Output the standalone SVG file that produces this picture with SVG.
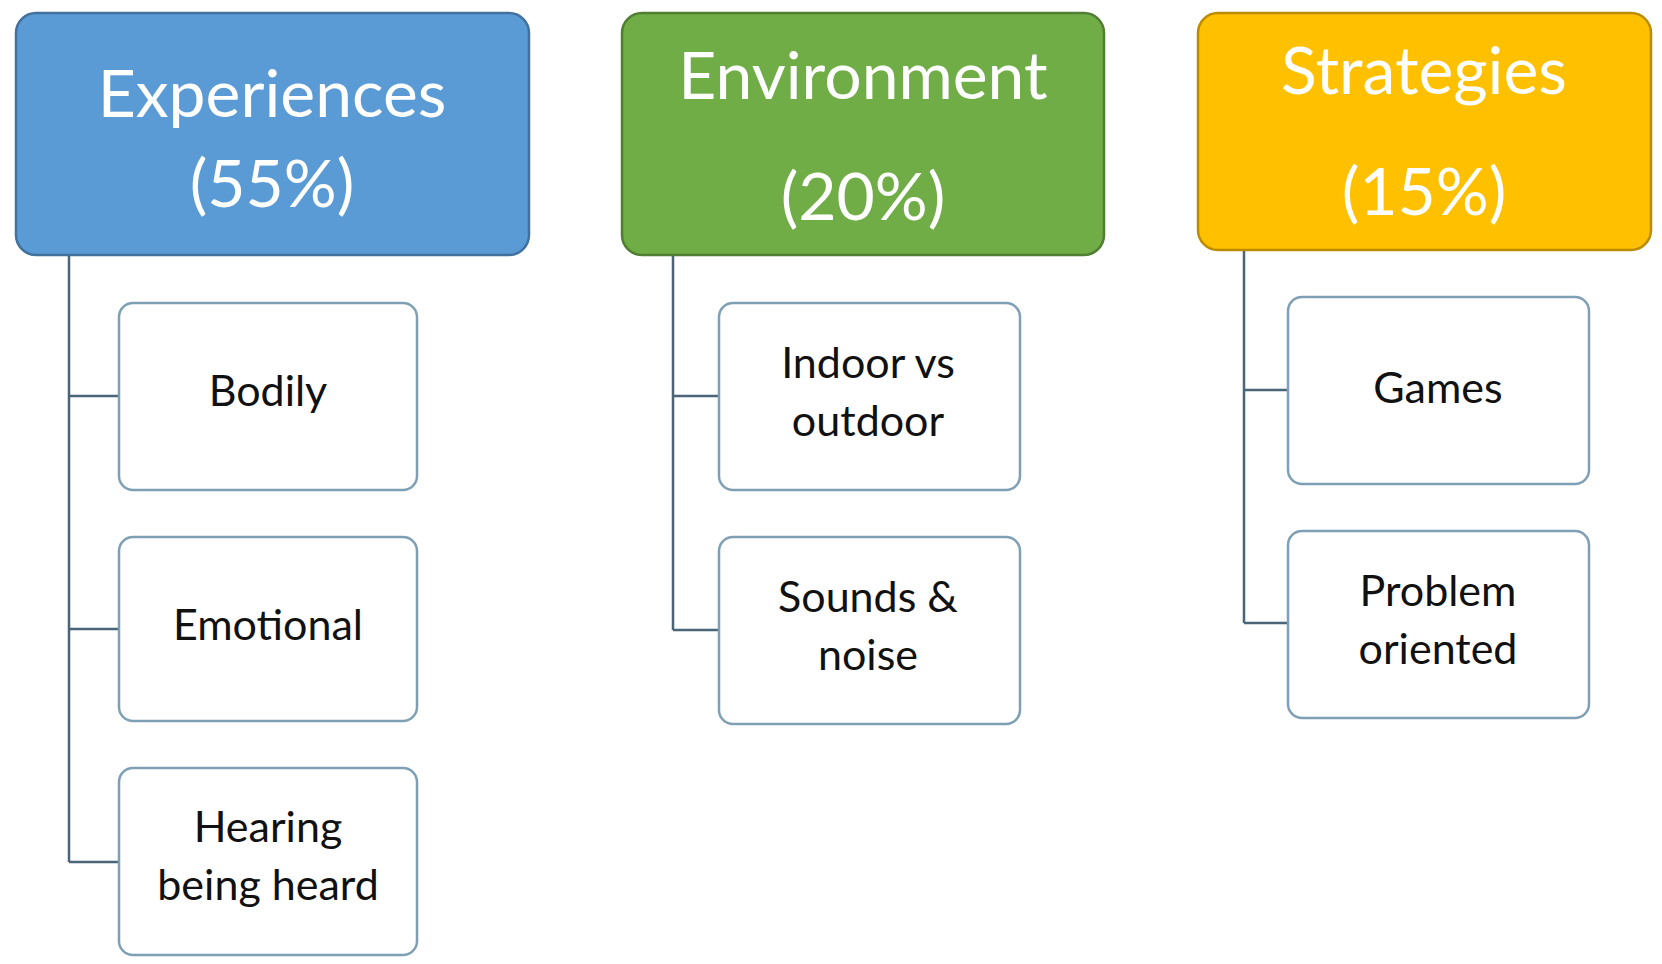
<svg xmlns="http://www.w3.org/2000/svg" width="1662" height="964" viewBox="0 0 1662 964">
<style>
.h{font-family:Lato,"Open Sans",sans-serif;fill:#fff;text-anchor:middle;font-size:66px}
.c{font-family:Lato,"Open Sans",sans-serif;fill:#111;text-anchor:middle;font-size:43px}
.box{fill:#fff;stroke:#7f9fb5;stroke-width:2.5}
.ln{stroke:#4a6478;stroke-width:2.5;fill:none}
</style>
<rect width="1662" height="964" fill="#fff"/>
<g id="connectors">
<path class="ln" d="M69 255V862M69 396H119M69 629H119M69 862H119"/>
<path class="ln" d="M673 255V630M673 396H719M673 630H719"/>
<path class="ln" d="M1244 250V623M1244 390H1288M1244 623H1288"/>
</g>
<g id="experiences"><rect x="16" y="13" width="513" height="242" rx="20" fill="#5b9bd5" stroke="#41719c" stroke-width="2.5"/>
<text class="h" x="272" y="117">Experiences</text><text class="h" x="272" y="207">(55%)</text></g>
<g id="environment"><rect x="622" y="13" width="482" height="242" rx="20" fill="#70ad47" stroke="#507e32" stroke-width="2.5"/>
<text class="h" x="863" y="99">Environment</text><text class="h" x="863" y="220">(20%)</text></g>
<g id="strategies"><rect x="1198" y="13" width="453" height="237" rx="20" fill="#ffc000" stroke="#bc8c00" stroke-width="2.5"/>
<text class="h" x="1424" y="94">Strategies</text><text class="h" x="1424" y="215">(15%)</text></g>
<g id="bodily"><rect class="box" x="119" y="303" width="298" height="187" rx="14"/><text class="c" x="268" y="406">Bodily</text></g>
<g id="emotional"><rect class="box" x="119" y="537" width="298" height="184" rx="14"/><text class="c" x="268" y="640">Emotional</text></g>
<g id="hearing"><rect class="box" x="119" y="768" width="298" height="187" rx="14"/><text class="c" x="268" y="842">Hearing</text><text class="c" x="268" y="900">being heard</text></g>
<g id="indoor"><rect class="box" x="719" y="303" width="301" height="187" rx="14"/><text class="c" x="868" y="378">Indoor vs</text><text class="c" x="868" y="436">outdoor</text></g>
<g id="sounds"><rect class="box" x="719" y="537" width="301" height="187" rx="14"/><text class="c" x="868" y="612">Sounds &amp;</text><text class="c" x="868" y="670">noise</text></g>
<g id="games"><rect class="box" x="1288" y="297" width="301" height="187" rx="14"/><text class="c" x="1438" y="403">Games</text></g>
<g id="problem"><rect class="box" x="1288" y="531" width="301" height="187" rx="14"/><text class="c" x="1438" y="606">Problem</text><text class="c" x="1438" y="664">oriented</text></g>
</svg>
